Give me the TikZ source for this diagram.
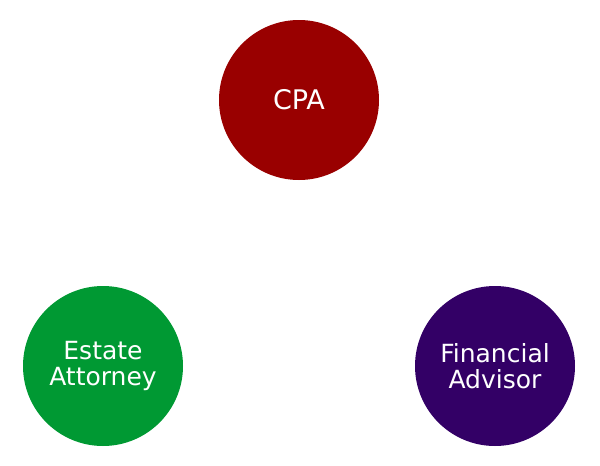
\documentclass[tikz,border=0pt]{standalone}
\usepackage{fontspec}
\setmainfont{DejaVu Sans}
\definecolor{cpared}{HTML}{990000}
\definecolor{estgreen}{HTML}{009933}
\definecolor{finpurple}{HTML}{330066}
\begin{document}
\begin{tikzpicture}[x=1pt,y=-1pt,
  bubble/.style={circle,minimum size=160pt,inner sep=0pt,text=white,align=center,
    font=\fontsize{25}{26}\selectfont}]
\useasboundingbox (0,0) rectangle (600,466);
\node[bubble,fill=cpared,font=\fontsize{27}{28}\selectfont] (cpa) at (299,100) {CPA};
\node[bubble,fill=estgreen] (est) at (103,366) {Estate\\Attorney};
\node[bubble,fill=finpurple] (fin) at (495,366) {Financial\\Advisor};
\end{tikzpicture}
\end{document}
